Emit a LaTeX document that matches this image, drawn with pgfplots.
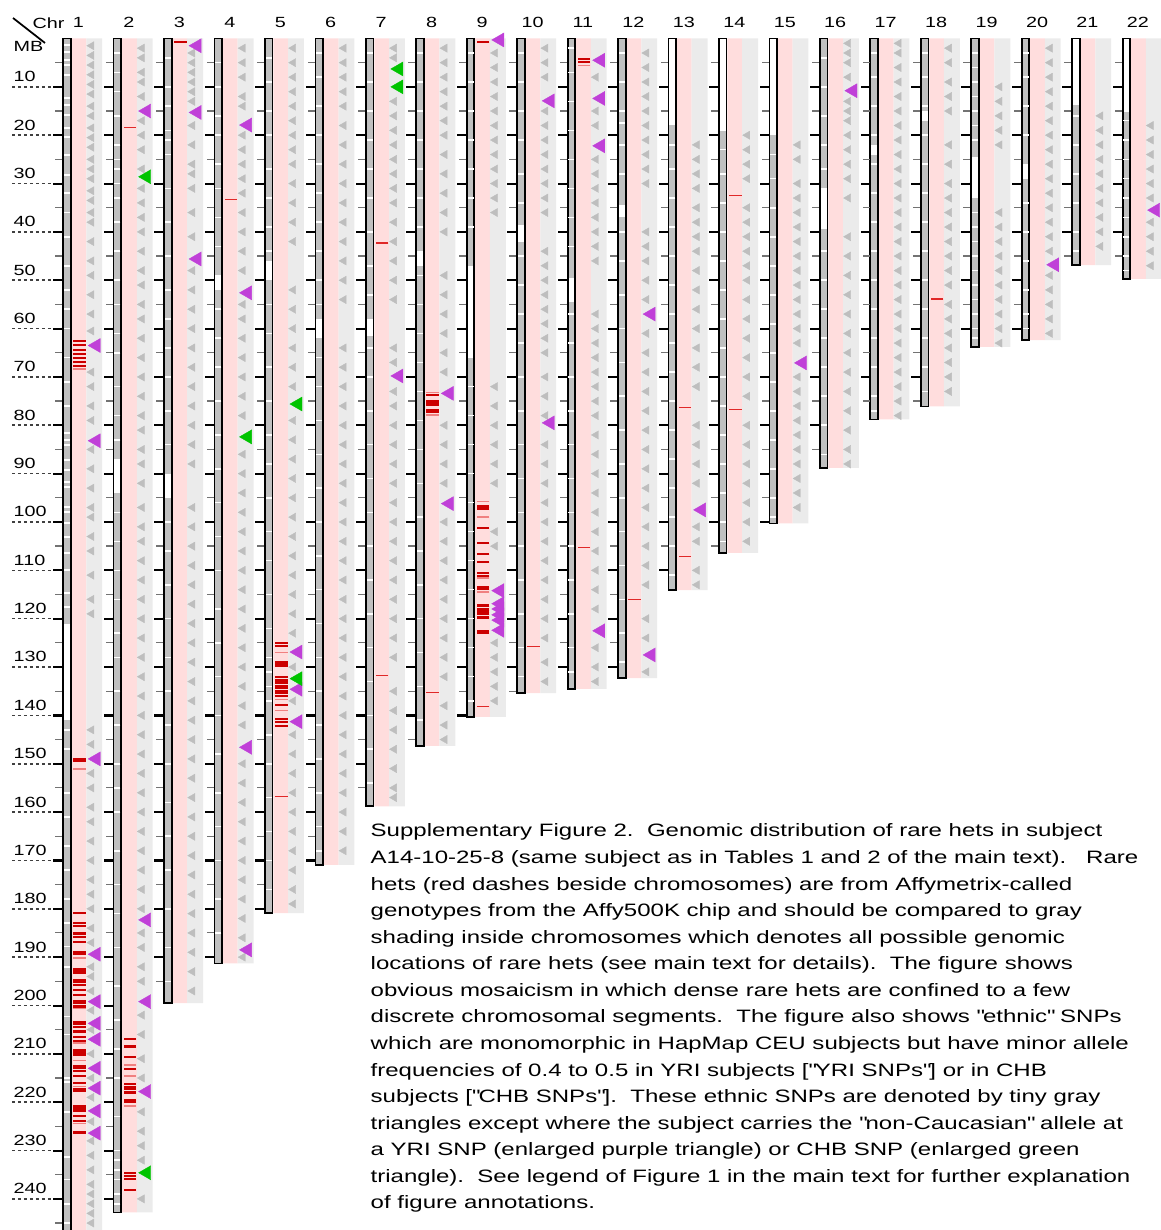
\documentclass[border=0pt]{standalone}
\usepackage{pgfplots}
\pgfplotsset{compat=1.18}
\usepackage{pgfplotstable}
\usepackage{fontspec}
\setmainfont{Liberation Sans}[FakeStretch=1.34]
\definecolor{pinkband}{HTML}{FFDDDD}
\definecolor{grayband}{HTML}{EBEBEB}
\definecolor{chrgray}{HTML}{C0C0C0}
\definecolor{tinytri}{HTML}{BEBEBE}
\definecolor{hetdark}{HTML}{CC0000}
\definecolor{hetthin}{HTML}{E02828}
\definecolor{hetlight}{HTML}{F08080}
\definecolor{yri}{HTML}{C040D8}
\definecolor{chb}{HTML}{00C400}

\pgfplotstableread{
c L
1 247.2
2 242.8
3 199.5
4 191.3
5 180.9
6 170.9
7 158.8
8 146.3
9 140.3
10 135.4
11 134.5
12 132.3
13 114.1
14 106.4
15 100.3
16 88.8
17 78.8
18 76.1
19 63.8
20 62.4
21 46.9
22 49.7
}\chrlen

\pgfplotstableread{
c y
1 9.8
1 247.2
1 nan
2 9.8
2 242.8
2 nan
3 9.8
3 199.5
3 nan
4 9.8
4 191.3
4 nan
5 9.8
5 180.9
5 nan
6 9.8
6 170.9
6 nan
7 9.8
7 158.8
7 nan
8 9.8
8 146.3
8 nan
9 9.8
9 140.3
9 nan
10 9.8
10 135.4
10 nan
11 9.8
11 134.5
11 nan
12 9.8
12 132.3
12 nan
13 9.8
13 114.1
13 nan
14 9.8
14 106.4
14 nan
15 9.8
15 100.3
15 nan
16 9.8
16 88.8
16 nan
17 9.8
17 78.8
17 nan
18 9.8
18 76.1
18 nan
19 9.8
19 63.8
19 nan
20 9.8
20 62.4
20 nan
21 9.8
21 46.9
21 nan
22 9.8
22 49.7
22 nan
}\majtick

\pgfplotstableread{
c y
1 4.85
1 247.2
1 nan
2 4.85
2 242.8
2 nan
3 4.85
3 199.5
3 nan
4 4.85
4 191.3
4 nan
5 4.85
5 180.9
5 nan
6 4.85
6 170.9
6 nan
7 4.85
7 158.8
7 nan
8 4.85
8 146.3
8 nan
9 4.85
9 140.3
9 nan
10 4.85
10 135.4
10 nan
11 4.85
11 134.5
11 nan
12 4.85
12 132.3
12 nan
13 4.85
13 114.1
13 nan
14 4.85
14 106.4
14 nan
15 4.85
15 100.3
15 nan
16 4.85
16 88.8
16 nan
17 4.85
17 78.8
17 nan
18 4.85
18 76.1
18 nan
19 4.85
19 63.8
19 nan
20 4.85
20 62.4
20 nan
21 4.85
21 46.9
21 nan
22 4.85
22 49.7
22 nan
}\mintick

\pgfplotstableread{
x y
0.003 10
0.816 10
0 nan
0.003 20
0.816 20
0 nan
0.003 30
0.816 30
0 nan
0.003 40
0.816 40
0 nan
0.003 50
0.816 50
0 nan
0.003 60
0.816 60
0 nan
0.003 70
0.816 70
0 nan
0.003 80
0.816 80
0 nan
0.003 90
0.816 90
0 nan
0.003 100
0.816 100
0 nan
0.003 110
0.816 110
0 nan
0.003 120
0.816 120
0 nan
0.003 130
0.816 130
0 nan
0.003 140
0.816 140
0 nan
0.003 150
0.816 150
0 nan
0.003 160
0.816 160
0 nan
0.003 170
0.816 170
0 nan
0.003 180
0.816 180
0 nan
0.003 190
0.816 190
0 nan
0.003 200
0.816 200
0 nan
0.003 210
0.816 210
0 nan
0.003 220
0.816 220
0 nan
0.003 230
0.816 230
0 nan
0.003 240
0.816 240
0 nan
}\guides

\pgfplotstableread{
c y
2 18.4
4 33.3
5 156.7
7 42.3
7 131.8
8 135.2
9 138.2
10 125.8
11 105.2
12 116.1
13 76.4
13 107.2
14 32.5
14 76.8
18 53.9
}\thinhets

\pgfplotstableread{
c y
1 63.5
1 83.2
1 149.0
1 189.4
1 199.2
1 203.7
1 207.0
1 213.0
1 217.1
1 221.8
1 226.4
2 15.0
2 182.3
2 199.2
2 217.8
3 1.5
3 15.3
3 45.6
4 17.9
4 52.6
4 146.6
4 188.5
5 126.9
5 134.6
5 141.3
7 69.8
8 73.4
8 96.2
9 0.3
9 114.2
9 116.9
9 118.0
9 119.2
9 120.3
9 122.4
10 12.9
10 79.5
11 4.5
11 12.4
11 22.2
11 122.5
12 57.0
12 127.5
13 97.5
15 67.1
16 10.8
20 46.8
22 35.5
}\yrisnps

\pgfplotstableread{
c y
2 28.6
2 234.6
4 82.4
5 75.6
5 132.4
7 6.3
7 10.0
}\chbsnps

% per-chromosome series: #1 style, #2 chromosome, #3 x offset, #4 y values
\newcommand\chrdata[4]{\addplot[#1, forget plot] table[row sep=\\, x expr=#2+#3, y=y]{y\\ #4\\};}

\pgfplotsset{
  tinystyle/.style={only marks, color=tinytri, mark=triangle*, mark size=1.35pt, mark options={rotate=90, fill=tinytri, draw=tinytri, line width=0.1pt}},
  stripestyle/.style={only marks, color=white, mark=-, mark size=0.85pt, mark options={draw=white, line width=0.45pt}},
  darkstyle/.style={only marks, color=hetdark, mark=-, mark size=1.77pt, mark options={draw=hetdark, line width=0.65pt}},
  thinstyle/.style={only marks, color=hetthin, mark=-, mark size=1.77pt, mark options={draw=hetthin, line width=0.35pt}},
  lightstyle/.style={only marks, color=hetlight, mark=-, mark size=1.77pt, mark options={draw=hetlight, line width=0.45pt}},
  yristyle/.style={only marks, color=yri, mark=triangle*, mark size=2.3pt, mark options={rotate=90, fill=yri, draw=yri, line width=0.1pt}},
  chbstyle/.style={only marks, color=chb, mark=triangle*, mark size=2.3pt, mark options={rotate=90, fill=chb, draw=chb, line width=0.1pt}},
  whitereg/.style={draw=white, line width=1.65pt},
}

\newcommand\lblfont{\fontsize{4.2pt}{5pt}\selectfont}
\newcommand\capfont{\fontsize{5.1pt}{7.56pt}\selectfont}
\newcommand\q{\textquotedbl}

\begin{document}
\begin{tikzpicture}
\begin{axis}[
  scale only axis, width=11.61cm, height=12.30cm,
  xmin=-0.235, xmax=22.778, ymin=-7.96, ymax=246.44, y dir=reverse,
  hide axis, unbounded coords=jump,
]
% ---- background bands
\addplot[ybar, bar width=0.292, bar shift=0pt, fill=pinkband, draw=none, forget plot] table[x expr=\thisrow{c}+0.33, y=L]{\chrlen};
\addplot[ybar, bar width=0.314, bar shift=0pt, fill=grayband, draw=none, forget plot] table[x expr=\thisrow{c}+0.633, y=L]{\chrlen};

% ---- tiny gray triangles (ethnic SNPs, Caucasian allele)
\chrdata{tinystyle}{1}{0.58}{1.5\\3.5\\5.5\\7.5\\9.5\\11.5\\14\\16\\18.5\\20.5\\22.5\\25\\27\\29\\31.5\\33.5\\36\\38\\42\\46\\49\\53\\57\\60.5\\69\\72\\76\\79\\85\\89\\93\\97\\99\\103\\106\\111\\116\\119\\143\\146\\152\\155\\159\\162\\166\\170\\174\\177\\180\\184\\187\\192\\194\\197\\201\\205\\210\\215\\219\\224\\228\\231\\234\\237\\239\\241\\243\\245}
\chrdata{tinystyle}{2}{0.58}{2\\4\\7\\9\\12\\17\\20\\23\\27\\31\\34\\37\\40\\44\\48\\51\\55\\58\\62\\66\\70\\74\\78\\81\\85\\88\\92\\97\\101\\104\\108\\112\\116\\120\\124\\128\\132\\136\\140\\144\\148\\152\\156\\160\\164\\168\\172\\176\\180\\185\\188\\192\\195\\202\\206\\211\\215\\222\\226\\229\\232\\240}
\chrdata{tinystyle}{3}{0.58}{3\\5\\7\\9\\11\\13\\18\\22\\26\\28\\31\\36\\41\\48\\52\\56\\60\\64\\68\\72\\76\\80\\84\\88\\97\\101\\105\\109\\113\\117\\121\\125\\129\\133\\137\\141\\145\\149\\153\\157\\161\\165\\169\\173\\177\\181\\185\\189\\193\\197}
\chrdata{tinystyle}{4}{0.58}{2\\5\\8\\12\\14\\20\\23\\26\\29\\32\\36\\40\\44\\48\\55\\58\\62\\66\\70\\74\\78\\86\\90\\94\\98\\102\\106\\110\\114\\118\\122\\126\\130\\134\\138\\142\\150\\154\\158\\162\\166\\170\\174\\178\\182\\186\\190}
\chrdata{tinystyle}{5}{0.58}{2\\5\\8\\11\\14\\17\\20\\23\\26\\30\\34\\38\\42\\52\\56\\60\\64\\68\\72\\79\\83\\87\\91\\95\\99\\103\\107\\111\\115\\119\\123\\130\\137\\144\\148\\152\\156\\160\\164\\168\\172\\176\\179}
\chrdata{tinystyle}{6}{0.58}{2\\5\\8\\11\\14\\18\\22\\26\\30\\34\\38\\42\\46\\50\\54\\64\\68\\72\\76\\80\\84\\88\\92\\96\\100\\104\\108\\112\\116\\120\\124\\128\\132\\136\\140\\144\\148\\152\\156\\160\\164\\168}
\chrdata{tinystyle}{7}{0.58}{2\\4\\13\\16\\19\\22\\25\\28\\31\\34\\38\\42\\46\\50\\54\\64\\67\\73\\76\\80\\84\\88\\92\\96\\100\\104\\108\\112\\116\\120\\124\\128\\135\\139\\143\\147\\151\\155\\157}
\chrdata{tinystyle}{8}{0.58}{2\\5\\8\\11\\14\\17\\20\\24\\28\\32\\36\\40\\49\\53\\57\\61\\65\\69\\80\\84\\88\\92\\100\\104\\108\\112\\116\\120\\124\\128\\132\\138\\142\\145}
\chrdata{tinystyle}{9}{0.58}{3\\6\\9\\12\\15\\18\\21\\24\\27\\30\\33\\36\\72\\76\\80\\84\\88\\92\\102\\105\\125\\128\\131\\134\\137}
\chrdata{tinystyle}{10}{0.58}{2\\5\\8\\15\\18\\21\\24\\27\\30\\33\\36\\44\\47\\50\\53\\56\\59\\62\\65\\70\\74\\78\\84\\88\\92\\96\\100\\104\\108\\112\\116\\120\\124\\129\\133}
\chrdata{tinystyle}{11}{0.58}{8\\15\\18\\25\\28\\31\\34\\37\\40\\43\\46\\57\\60\\63\\66\\69\\72\\75\\78\\82\\86\\90\\94\\98\\102\\106\\110\\114\\118\\126\\130\\133}
\chrdata{tinystyle}{12}{0.58}{3\\6\\9\\12\\15\\18\\21\\24\\27\\30\\40\\43\\46\\50\\54\\61\\65\\69\\73\\77\\81\\85\\89\\93\\97\\101\\105\\109\\113\\120\\124\\131}
\chrdata{tinystyle}{13}{0.58}{22\\25\\28\\31\\35\\38\\41\\44\\48\\52\\56\\60\\64\\68\\72\\80\\84\\88\\92\\101\\104\\110\\113}
\chrdata{tinystyle}{14}{0.58}{20\\23\\26\\29\\35\\38\\41\\44\\47\\50\\54\\58\\62\\66\\70\\74\\80\\84\\88\\92\\96\\100\\104}
\chrdata{tinystyle}{15}{0.58}{22\\25\\30\\33\\36\\39\\42\\45\\48\\51\\54\\57\\60\\63\\70\\73\\76\\79\\82\\85\\88\\91\\94\\97}
\chrdata{tinystyle}{16}{0.58}{1\\3\\5\\8\\13\\15\\17\\20\\23\\26\\29\\33\\41\\45\\49\\53\\57\\61\\65\\69\\73\\77\\81\\85\\88}
\chrdata{tinystyle}{17}{0.58}{1\\3\\6\\9\\12\\15\\18\\21\\24\\27\\30\\33\\36\\39\\42\\45\\48\\51\\54\\57\\60\\63\\66\\69\\72\\75\\78}
\chrdata{tinystyle}{18}{0.58}{2\\5\\9\\12\\15\\22\\26\\30\\33\\36\\39\\42\\45\\48\\51\\55\\58\\61\\64\\67\\70\\73}
\chrdata{tinystyle}{19}{0.58}{10\\13\\16\\19\\22\\36\\39\\42\\45\\48\\51\\54\\57\\60\\63}
\chrdata{tinystyle}{20}{0.58}{2\\5\\8\\11\\14\\17\\20\\23\\26\\29\\32\\35\\38\\41\\44\\49\\52\\55\\58\\61}
\chrdata{tinystyle}{21}{0.58}{16\\19\\22\\25\\28\\31\\34\\37\\40\\43}
\chrdata{tinystyle}{22}{0.58}{18\\21\\24\\27\\30\\33\\38\\41\\44\\47}

% ---- chromosome bodies
\addplot[ybar, bar width=0.15, bar shift=0pt, fill=chrgray, draw=none, forget plot] table[x expr=\thisrow{c}+0.092, y=L]{\chrlen};
% large regions without possible rare hets
\addplot[whitereg, forget plot] coordinates {(1.092,121) (1.092,141)};
\addplot[whitereg, forget plot] coordinates {(2.092,87) (2.092,94)};
\addplot[whitereg, forget plot] coordinates {(3.092,90) (3.092,95)};
\addplot[whitereg, forget plot] coordinates {(4.092,49) (4.092,52)};
\addplot[whitereg, forget plot] coordinates {(5.092,46) (5.092,50)};
\addplot[whitereg, forget plot] coordinates {(6.092,58) (6.092,62)};
\addplot[whitereg, forget plot] coordinates {(7.092,58) (7.092,61.5)};
\addplot[whitereg, forget plot] coordinates {(8.092,44) (8.092,47)};
\addplot[whitereg, forget plot] coordinates {(9.092,47) (9.092,66)};
\addplot[whitereg, forget plot] coordinates {(10.092,38.5) (10.092,42)};
\addplot[whitereg, forget plot] coordinates {(11.092,49.5) (11.092,54.5)};
\addplot[whitereg, forget plot] coordinates {(12.092,34.5) (12.092,37)};
\addplot[whitereg, forget plot] coordinates {(13.092,0) (13.092,17.8)};
\addplot[whitereg, forget plot] coordinates {(14.092,0) (14.092,19.2)};
\addplot[whitereg, forget plot] coordinates {(15.092,0) (15.092,20)};
\addplot[whitereg, forget plot] coordinates {(16.092,31) (16.092,39.5)};
\addplot[whitereg, forget plot] coordinates {(17.092,22) (17.092,24)};
\addplot[whitereg, forget plot] coordinates {(18.092,15) (18.092,17)};
\addplot[whitereg, forget plot] coordinates {(19.092,24.5) (19.092,33)};
\addplot[whitereg, forget plot] coordinates {(20.092,26) (20.092,29)};
\addplot[whitereg, forget plot] coordinates {(21.092,0) (21.092,13.8)};
\addplot[whitereg, forget plot] coordinates {(22.092,0) (22.092,15.2)};
% thin white stripes
\chrdata{stripestyle}{1}{0.092}{1.3\\2.8\\4.4\\5.5\\7.6\\12.3\\13.8\\15.8\\18.5\\20.4\\24.1\\28.2\\32\\36\\41\\47\\52\\56\\60\\66\\71\\76\\81.6\\83\\84.1\\87.2\\89.2\\91.7\\92.8\\96.9\\97.9\\100.2\\103.1\\106.4\\109.9\\114.7\\117.6\\143\\147\\156\\161\\167\\172\\178\\183\\187.8\\192\\202.3\\206\\215\\215.8\\222\\231.3\\236\\241\\245}
\chrdata{stripestyle}{2}{0.092}{3\\7\\11\\16\\22\\25\\27\\30\\33\\38\\44\\50\\55\\61\\65\\72\\78\\83\\98\\104\\110\\116\\123\\128\\135\\142\\150\\155\\160\\168\\175\\181\\188\\196\\203\\209\\215\\223\\230\\232\\234\\236\\239\\241}
\chrdata{stripestyle}{3}{0.092}{4\\10\\14\\19\\21\\24\\31\\38\\45\\52\\58\\64\\70\\77\\84\\100\\106\\113\\120\\128\\135\\142\\150\\158\\165\\172\\180\\188\\195}
\chrdata{stripestyle}{4}{0.092}{5\\10\\16\\20\\26\\31\\37\\43\\56\\62\\68\\75\\82\\89\\96\\103\\110\\118\\125\\132\\140\\148\\156\\163\\170\\178\\185}
\chrdata{stripestyle}{5}{0.092}{4\\9\\15\\20\\27\\33\\39\\44\\55\\61\\68\\75\\82\\88\\95\\102\\108\\115\\122\\128\\131\\134\\137\\144\\150\\157\\164\\170\\176}
\chrdata{stripestyle}{6}{0.092}{3\\8\\14\\20\\26\\32\\38\\44\\50\\55\\66\\72\\79\\86\\93\\100\\107\\114\\121\\128\\135\\142\\149\\156\\163\\168}
\chrdata{stripestyle}{7}{0.092}{3\\9\\15\\21\\27\\33\\40\\47\\53\\64\\70\\77\\84\\91\\98\\105\\112\\119\\126\\133\\140\\147\\154}
\chrdata{stripestyle}{8}{0.092}{3\\9\\15\\21\\27\\33\\39\\49\\55\\61\\67\\73\\79\\85\\92\\99\\106\\113\\120\\127\\134\\141}
\chrdata{stripestyle}{9}{0.092}{3\\9\\15\\21\\27\\33\\39\\72\\78\\84\\90\\96\\102\\108\\114\\120\\126\\132\\137}
\chrdata{stripestyle}{10}{0.092}{3\\9\\15\\21\\28\\34\\45\\51\\57\\63\\70\\77\\84\\91\\98\\105\\112\\119\\126\\132}
\chrdata{stripestyle}{11}{0.092}{2\\7\\13\\19\\25\\31\\37\\43\\57\\63\\70\\77\\84\\91\\98\\105\\112\\119\\126\\131}
\chrdata{stripestyle}{12}{0.092}{3\\9\\15\\17.5\\22\\28\\40\\46\\53\\60\\67\\74\\81\\88\\95\\102\\109\\116\\123\\129}
\chrdata{stripestyle}{13}{0.092}{22\\27\\33\\39\\45\\51\\57\\63\\69\\75\\81\\87\\93\\99\\105\\111}
\chrdata{stripestyle}{14}{0.092}{23\\28\\34\\40\\46\\52\\58\\64\\70\\76\\82\\88\\94\\100\\104}
\chrdata{stripestyle}{15}{0.092}{24\\29\\35\\41\\47\\53\\59\\65\\71\\77\\83\\89\\95\\99}
\chrdata{stripestyle}{16}{0.092}{4\\10\\16\\22\\27\\44\\50\\56\\62\\68\\74\\80\\86}
\chrdata{stripestyle}{17}{0.092}{3\\8\\14\\20\\26\\32\\38\\44\\50\\56\\62\\68\\74\\77}
\chrdata{stripestyle}{18}{0.092}{3\\8\\14\\20\\26\\32\\38\\44\\50\\56\\62\\68\\73}
\chrdata{stripestyle}{19}{0.092}{3\\6\\9\\12\\15\\18\\21\\36\\39\\42\\45\\48\\51\\54\\57\\60\\62}
\chrdata{stripestyle}{20}{0.092}{3\\8\\14\\20\\34\\40\\46\\52\\57\\60}
\chrdata{stripestyle}{21}{0.092}{16\\22\\28\\34\\40\\44}
\chrdata{stripestyle}{22}{0.092}{17\\21\\25\\29\\33\\37\\41\\45\\48}
% outlines
\addplot[ybar, bar width=0.15, bar shift=0pt, fill=none, draw=black, line width=0.5pt, forget plot] table[x expr=\thisrow{c}+0.092, y=L]{\chrlen};

% ---- MB ticks beside each chromosome
\addplot[draw=black!55, line width=2pt, dash pattern=on 0.35pt off 13.407pt, forget plot] table[x expr=\thisrow{c}-0.069, y=y]{\mintick};
\addplot[draw=black, line width=2.56pt, dash pattern=on 0.6pt off 13.157pt, forget plot] table[x expr=\thisrow{c}-0.089, y=y]{\majtick};

% ---- left MB guide lines
\addplot[draw=black!75, line width=0.45pt, dash pattern=on 0.85pt off 0.85pt, forget plot] table[x=x, y=y]{\guides};
\addplot[draw=black, line width=0.5pt, forget plot] coordinates {(0.023,-4.24) (0.657,0.93)};

% ---- rare hets (red dashes)
\chrdata{darkstyle}{1}{0.341}{62.6\\63.4\\64.4\\65.2\\66.1\\66.9\\67.7\\149.0\\149.5\\180.9\\183.0\\183.5\\185.1\\185.8\\186.8\\189.0\\189.4\\192.4\\192.8\\193.2\\194.7\\195.2\\195.8\\196.8\\197.8\\199.2\\199.5\\200.2\\203.4\\203.8\\204.4\\205.4\\206.5\\207.3\\209.2\\209.7\\210.2\\212.5\\213.0\\213.5\\214.6\\216.0\\217.3\\217.6\\220.8\\221.3\\221.8\\222.9\\223.9\\226.1\\226.4}
\chrdata{lightstyle}{1}{0.341}{68.3\\151.1\\190.2\\200.6\\207.8\\211.4\\216.8\\224.4}
\chrdata{darkstyle}{2}{0.341}{207.0\\208.5\\210.6\\213.1\\216.3\\216.8\\217.3\\218.0\\219.5\\220.0\\234.6\\235.3\\235.9\\238.2}
\chrdata{lightstyle}{2}{0.341}{212.3\\214.6\\220.8}
\chrdata{darkstyle}{3}{0.341}{0.7}
\chrdata{darkstyle}{5}{0.341}{125.1\\125.6\\129.0\\129.4\\129.7\\132.1\\132.7\\133.2\\133.9\\134.4\\135.0\\135.4\\136.0\\137.8\\140.8\\141.3\\142.2}
\chrdata{lightstyle}{5}{0.341}{127.0\\136.7\\139.0}
\chrdata{darkstyle}{8}{0.341}{73.7\\75.1\\75.4\\75.8\\76.8\\77.3}
\chrdata{lightstyle}{8}{0.341}{73.2\\77.9}
\chrdata{darkstyle}{9}{0.341}{0.7\\96.8\\97.2\\101.2\\104.3\\106.6\\108.3\\110.6\\111.1\\113.4\\113.9\\117.3\\118.1\\118.6\\119.0\\119.6\\119.9\\122.5\\122.9}
\chrdata{lightstyle}{9}{0.341}{95.8\\99.0\\111.6\\114.5}
\chrdata{darkstyle}{11}{0.341}{4.3\\4.8}
\chrdata{lightstyle}{11}{0.341}{5.6}
\addplot[thinstyle, forget plot] table[x expr=\thisrow{c}+0.341, y=y]{\thinhets};

% ---- non-Caucasian alleles: YRI (purple) and CHB (green)
\addplot[yristyle, forget plot] table[x expr=\thisrow{c}+0.672, y=y]{\yrisnps};
\addplot[chbstyle, forget plot] table[x expr=\thisrow{c}+0.672, y=y]{\chbsnps};

% ---- labels
\node[anchor=west, inner sep=0pt, font=\lblfont] at (axis cs:0.399,-3.25) {Chr};
\node[anchor=west, inner sep=0pt, font=\lblfont] at (axis cs:0.023,1.65) {MB};
\pgfplotsinvokeforeach{1,...,22}{
  \node[inner sep=0pt, font=\lblfont] at (axis cs:#1+0.32,-3.25) {#1};
}
\pgfplotsinvokeforeach{10,20,...,240}{
  \node[anchor=west, inner sep=0pt, font=\lblfont] at (axis cs:0.023,#1-2.1) {#1};
}
\node[anchor=north west, inner sep=0pt, align=left, font=\capfont] at (axis cs:7.099,162.3) {%
Supplementary Figure 2.\ \ Genomic distribution of rare hets in subject\\
A14-10-25-8 (same subject as in Tables 1 and 2 of the main text).\ \ \ Rare\\
hets (red dashes beside chromosomes) are from Affymetrix-called\\
genotypes from the Affy500K chip and should be compared to gray\\
shading inside chromosomes which denotes all possible genomic\\
locations of rare hets (see main text for details).\ \ The figure shows\\
obvious mosaicism in which dense rare hets are confined to a few\\
discrete chromosomal segments.\ \ The figure also shows \q ethnic\q{} SNPs\\
which are monomorphic in HapMap CEU subjects but have minor allele\\
frequencies of 0.4 to 0.5 in YRI subjects [\q YRI SNPs\q] or in CHB\\
subjects [\q CHB SNPs\q].\ \ These ethnic SNPs are denoted by tiny gray\\
triangles except where the subject carries the \q non-Caucasian\q{} allele at\\
a YRI SNP (enlarged purple triangle) or CHB SNP (enlarged green\\
triangle).\ \ See legend of Figure 1 in the main text for further explanation\\
of figure annotations.};
\end{axis}
\pgfresetboundingbox
\path (current axis.south west) rectangle (current axis.north east);
\end{tikzpicture}
\end{document}
